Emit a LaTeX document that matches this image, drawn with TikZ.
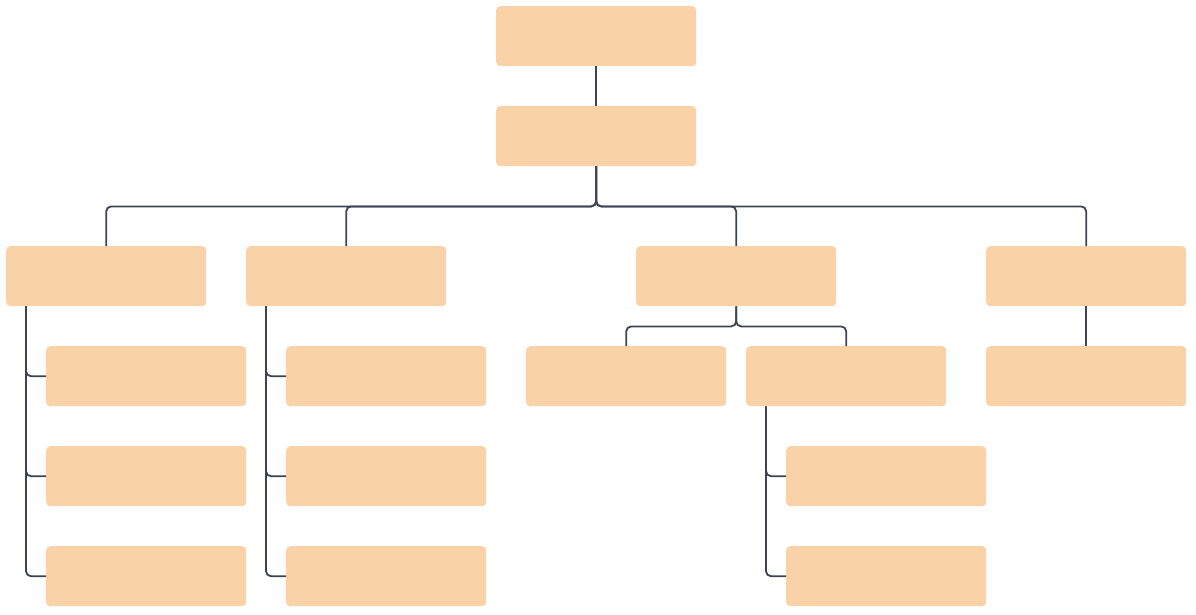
\documentclass[tikz,border=0pt]{standalone}
\begin{document}
\begin{tikzpicture}[x=1pt,y=-1pt,
  box/.style={fill=boxc,draw=none,rounded corners=4pt,minimum width=200pt,minimum height=60pt,anchor=north west,inner sep=0pt},
  conn/.style={draw=linec,line width=1.8pt,rounded corners=5pt}]
\definecolor{boxc}{HTML}{FAD2A7}
\definecolor{linec}{HTML}{3B4552}
\useasboundingbox (0,0) rectangle (1196,614);
\node[box] (r) at (496,6) {};
\node[box] (s) at (496,106) {};
\node[box] (a) at (6,246) {};
\node[box] (b) at (246,246) {};
\node[box] (c) at (636,246) {};
\node[box] (d) at (986,246) {};
\node[box] (a1) at (46,346) {};
\node[box] (a2) at (46,446) {};
\node[box] (a3) at (46,546) {};
\node[box] (b1) at (286,346) {};
\node[box] (b2) at (286,446) {};
\node[box] (b3) at (286,546) {};
\node[box] (c1) at (526,346) {};
\node[box] (c2) at (746,346) {};
\node[box] (c21) at (786,446) {};
\node[box] (c22) at (786,546) {};
\node[box] (d1) at (986,346) {};
\draw[conn] (r.south) -- (s.north);
\foreach \t in {a,b,c,d} \draw[conn] (s.south) -- ++(0,40) -| (\t.north);
\foreach \t in {c1,c2} \draw[conn] (c.south) -- ++(0,20) -| (\t.north);
\draw[conn] (d.south) -- (d1.north);
\foreach \t in {a1,a2,a3} \draw[conn] ([xshift=20pt]a.south west) |- (\t.west);
\foreach \t in {b1,b2,b3} \draw[conn] ([xshift=20pt]b.south west) |- (\t.west);
\foreach \t in {c21,c22} \draw[conn] ([xshift=20pt]c2.south west) |- (\t.west);
\end{tikzpicture}
\end{document}
